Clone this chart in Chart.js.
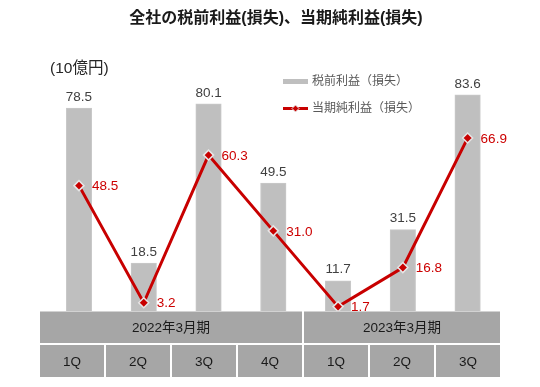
<!DOCTYPE html>
<html><head><meta charset="utf-8">
<script src="https://cdn.jsdelivr.net/npm/chart.js@4"></script>
<style>html,body{margin:0;padding:0;background:#fff}canvas{display:block}</style>
</head><body>
<div style="width:540px;height:387px"><canvas id="c" width="540" height="387"></canvas></div>
<script>
const categories = ['1Q','2Q','3Q','4Q','1Q','2Q','3Q'];
const fiscalYears = ['2022年3月期','2023年3月期'];
const fiscalYearSpans = [4,3];
const pretaxProfit = [78.5,18.5,80.1,49.5,11.7,31.5,83.6];
const netIncome = [48.5,3.2,60.3,31.0,1.7,16.8,66.9];
const seriesNames = ['税前利益（損失）','当期純利益（損失）'];
const titleText = '全社の税前利益(損失)、当期純利益(損失)';
const unitText = '(10億円)';

const FONT = '"Liberation Sans", Arial, "Noto Sans CJK JP", sans-serif';
const BAR_COLOR = '#BFBFBF';
const LINE_COLOR = '#C80000';
const LABEL_RED = '#CC0000';

const decor = {
  id: 'decor',
  afterDatasetsDraw(chart) {
    const ctx = chart.ctx;
    ctx.save();
    ctx.font = '13.5px ' + FONT;
    ctx.textBaseline = 'middle';
    const barMeta = chart.getDatasetMeta(0);
    ctx.fillStyle = '#404040';
    ctx.textAlign = 'center';
    barMeta.data.forEach((el, i) => {
      ctx.fillText(pretaxProfit[i].toFixed(1), el.x, el.y - 11);
    });
    const lineMeta = chart.getDatasetMeta(1);
    ctx.fillStyle = LABEL_RED;
    ctx.textAlign = 'left';
    lineMeta.data.forEach((el, i) => {
      ctx.fillText(netIncome[i].toFixed(1), el.x + 13, el.y + 1);
    });
    ctx.restore();
  },
  afterDraw(chart) {
    const ctx = chart.ctx;
    ctx.save();
    // title
    ctx.fillStyle = '#1a1a1a';
    ctx.font = 'bold 16px ' + FONT;
    ctx.textAlign = 'center';
    ctx.textBaseline = 'middle';
    ctx.fillText(titleText, 276, 19);
    // unit
    ctx.font = '15.5px ' + FONT;
    ctx.textAlign = 'left';
    ctx.fillStyle = '#262626';
    ctx.fillText(unitText, 50, 68.5);
    // legend
    ctx.lineCap = 'butt';
    ctx.strokeStyle = BAR_COLOR;
    ctx.lineWidth = 5;
    ctx.beginPath(); ctx.moveTo(283, 81.5); ctx.lineTo(308, 81.5); ctx.stroke();
    ctx.strokeStyle = LINE_COLOR;
    ctx.lineWidth = 3;
    ctx.beginPath(); ctx.moveTo(283, 108.5); ctx.lineTo(308, 108.5); ctx.stroke();
    ctx.fillStyle = LINE_COLOR;
    ctx.strokeStyle = '#E8E8E8';
    ctx.lineWidth = 1;
    ctx.beginPath();
    ctx.moveTo(295.5, 105); ctx.lineTo(299, 108.5); ctx.lineTo(295.5, 112); ctx.lineTo(292, 108.5); ctx.closePath();
    ctx.fill(); ctx.stroke();
    ctx.font = '12px ' + FONT;
    ctx.fillStyle = '#595959';
    ctx.fillText(seriesNames[0], 312, 81.5);
    ctx.fillText(seriesNames[1], 312, 108.5);
    // table
    const tL = 40, tR = 500, gap = 2;
    const pitch = (tR - tL + gap) / categories.length;
    const r1 = [311.5, 343], r2 = [345, 377];
    let start = 0;
    const cellFill = (c0, c1, y0, y1) => {
      const x0 = tL + c0 * pitch;
      const x1 = tL + c1 * pitch - gap;
      ctx.fillRect(x0, y0, x1 - x0, y1 - y0);
      return (x0 + x1) / 2;
    };
    ctx.font = '13.5px ' + FONT;
    ctx.textAlign = 'center';
    fiscalYears.forEach((fy, k) => {
      ctx.fillStyle = '#A6A6A6';
      const cx = cellFill(start, start + fiscalYearSpans[k], r1[0], r1[1]);
      ctx.fillStyle = '#1a1a1a';
      ctx.fillText(fy, cx, (r1[0] + r1[1]) / 2 + 1);
      start += fiscalYearSpans[k];
    });
    categories.forEach((c, i) => {
      ctx.fillStyle = '#A6A6A6';
      const cx = cellFill(i, i + 1, r2[0], r2[1]);
      ctx.fillStyle = '#1a1a1a';
      ctx.fillText(c, cx, (r2[0] + r2[1]) / 2 + 1);
    });
    ctx.restore();
  }
};

new Chart(document.getElementById('c'), {
  data: {
    labels: categories,
    datasets: [
      { type: 'bar', label: seriesNames[0], data: pretaxProfit, backgroundColor: BAR_COLOR,
        borderColor: '#C9C9C9', borderWidth: 1, barThickness: 25.5, order: 2 },
      { type: 'line', label: seriesNames[1], data: netIncome, borderColor: LINE_COLOR, borderWidth: 3,
        pointStyle: 'rectRot', pointRadius: 5, pointBackgroundColor: LINE_COLOR,
        pointBorderColor: '#E6E6E6', pointBorderWidth: 1.5, tension: 0, order: 1 }
    ]
  },
  options: {
    responsive: false,
    animation: false,
    devicePixelRatio: 1,
    layout: { padding: { left: 46.6, right: 40, top: 52.5, bottom: 76 } },
    scales: {
      x: { display: false, offset: true },
      y: { display: false, min: 0, max: 100 }
    },
    plugins: { legend: { display: false }, tooltip: { enabled: false }, title: { display: false } }
  },
  plugins: [decor]
});
</script>
</body></html>
